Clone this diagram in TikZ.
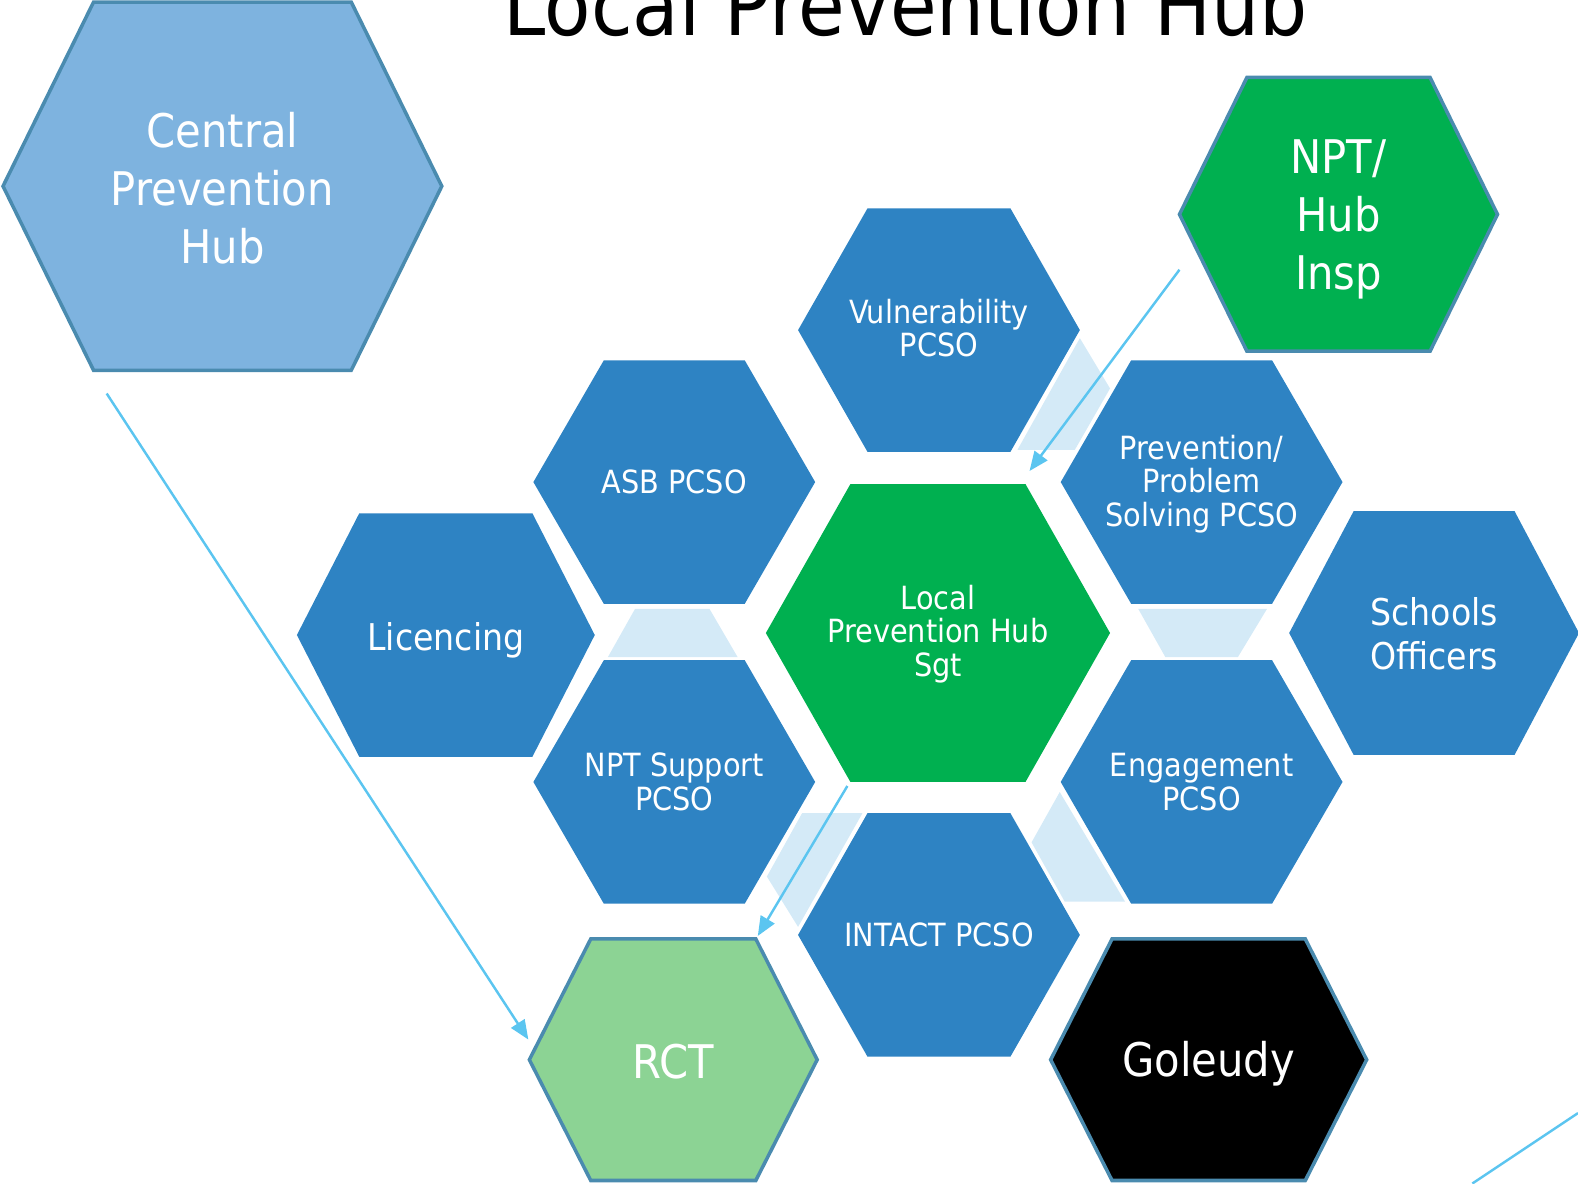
\documentclass[tikz,border=0pt]{standalone}
\usepackage{fontspec}
\setmainfont{DejaVu Sans}[FakeStretch=0.9]
\usepackage{tikz}
\usetikzlibrary{calc,arrows.meta,backgrounds}
\definecolor{cellblue}{HTML}{2E83C3}
\definecolor{paleblue}{HTML}{7EB3DF}
\definecolor{hubgreen}{HTML}{00B050}
\definecolor{palegreen}{HTML}{8CD394}
\definecolor{linkfill}{HTML}{D4EAF7}
\definecolor{rimblue}{HTML}{4A8BAF}
\definecolor{arrowblue}{HTML}{5BC5F0}
\tikzstyle{arrow} = [line width=0.7pt, arrowblue, -{Triangle[length=5.5pt,width=4.5pt]}]
% hexagon round a node centre: name, half width, half top edge, half height
\newcommand{\hexagon}[4]{($(#1)+(-#2,0)$) -- ($(#1)+(-#3,-#4)$) -- ($(#1)+(#3,-#4)$) -- ($(#1)+(#2,0)$) -- ($(#1)+(#3,#4)$) -- ($(#1)+(-#3,#4)$) -- cycle}

\begin{document}
\begin{tikzpicture}[x=0.010064cm, y=-0.010064cm,
	celltext/.style={text=white, align=center, inner sep=0pt, font=\fontsize{9.1}{9.5}\selectfont},
	midtext/.style={celltext, font=\fontsize{10.5}{12.6}\selectfont},
	bigtext/.style={celltext, font=\fontsize{13.2}{16.5}\selectfont},
	cell/.style={fill=cellblue},
	rimcell/.style={draw=rimblue, line width=1pt}]
	\useasboundingbox (0,0) rectangle (1568,1176);
	
	% TITLE
	\node[anchor=base, font=\fontsize{24}{24}\selectfont] (title) at (900,35) {Local Prevention Hub};
	
	% CELLS
	\node[bigtext] (central) at (221,187) {Central\\Prevention\\Hub};
	\node[bigtext] (insp) at (1330,218) {NPT/\\Hub\\Insp};
	\node[celltext] (vuln) at (933,326) {Vulnerability\\PCSO};
	\node[celltext] (asb) at (670,479) {ASB PCSO};
	\node[celltext] (probsolve) at (1194,481) {Prevention/\\Problem\\Solving PCSO};
	\node[midtext] (licencing) at (443,636) {Licencing};
	\node[celltext] (sgt) at (932,630) {Local\\Prevention Hub\\Sgt};
	\node[midtext] (schools) at (1425,630) {Schools\\Officers};
	\node[celltext] (support) at (670,777) {NPT Support\\PCSO};
	\node[celltext] (engage) at (1194,777) {Engagement\\PCSO};
	\node[celltext] (intact) at (933,929) {INTACT PCSO};
	\node[bigtext] (rct) at (669,1055) {RCT};
	\node[bigtext] (goleudy) at (1201,1057) {Goleudy};
	
	\begin{scope}[on background layer]
		\path[rimcell, fill=paleblue] ($(central)+(0,-2)$) coordinate (central-c) \hexagon{central-c}{218}{128}{183};
		\path[rimcell, fill=hubgreen] ($(insp)+(0,-5)$) coordinate (insp-c) \hexagon{insp-c}{158}{91}{136};
		\path[cell] ($(vuln)+(0,2)$) coordinate (vuln-c) \hexagon{vuln-c}{140}{71}{121};
		\path[cell] \hexagon{asb}{140}{70}{121};
		\path[cell] ($(probsolve)+(0,-2)$) coordinate (probsolve-c) \hexagon{probsolve-c}{140}{70}{121};
		\path[cell] ($(licencing)+(0,-5)$) coordinate (licencing-c) \hexagon{licencing-c}{148}{86}{121};
		\path[fill=hubgreen] ($(sgt)+(0,-1)$) coordinate (sgt-c) \hexagon{sgt-c}{171}{87}{148};
		\path[cell] ($(schools)+(0,-1)$) coordinate (schools-c) \hexagon{schools-c}{144}{80}{121};
		\path[cell] \hexagon{support}{140}{70}{121};
		\path[cell] \hexagon{engage}{140}{70}{121};
		\path[cell] \hexagon{intact}{140}{71}{121};
		\path[rimcell, fill=palegreen] ($(rct)+(0,-2)$) coordinate (rct-c) \hexagon{rct-c}{143}{82}{120};
		\path[rimcell, fill=black] ($(goleudy)+(0,-4)$) coordinate (goleudy-c) \hexagon{goleudy-c}{157}{96}{120};
		
		% LINKS
		\fill[linkfill] (1073,336) -- (1103,386) -- (1068,447) -- (1011,447) -- cycle;
		\fill[linkfill] (631,605) -- (705,605) -- (733,653) -- (604,653) -- cycle;
		\fill[linkfill] (797,808) -- (857,808) -- (793,921) -- (762,871) -- cycle;
		\fill[linkfill] (1053,787) -- (1118,896) -- (1058,896) -- (1025,837) -- cycle;
		\fill[linkfill] (1131,605) -- (1259,605) -- (1230,653) -- (1158,653) -- cycle;
	\end{scope}
	
	% ARROWS
	\coordinate (central-out) at (106,391);
	\coordinate (rct-in) at (525,1033);
	\coordinate (insp-out) at (1172,268);
	\coordinate (sgt-in) at (1023,468);
	\coordinate (sgt-out) at (842,781);
	\coordinate (rct-top) at (753,930);
	\coordinate (corner-a) at (1463,1176);
	\coordinate (corner-b) at (1568,1106);
	\draw[arrow] (central-out) -- (rct-in);
	\draw[arrow] (insp-out) -- (sgt-in);
	\draw[arrow] (sgt-out) -- (rct-top);
	\draw[line width=0.7pt, arrowblue] (corner-a) -- (corner-b);
\end{tikzpicture}
\end{document}
